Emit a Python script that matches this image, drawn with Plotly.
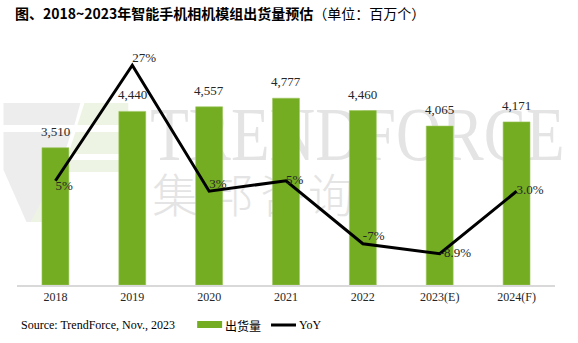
import base64
import plotly.graph_objects as go

# Smartphone camera module shipments (million units) and YoY growth
years = ["2018", "2019", "2020", "2021", "2022", "2023(E)", "2024(F)"]
shipments = [3510, 4440, 4557, 4777, 4460, 4065, 4171]
yoy = [5, 27, 3, 5, -7, -8.9, 3.0]
yoy_labels = ["5%", "27%", "3%", "5%", "-7%", "-8.9%", "3.0%"]
yoy_label_pos = ["bottom right", "top right", "top right", "middle right",
                 "top right", "middle right", "middle right"]

idx = list(range(len(years)))

W, H = 578, 343
L, R, T, B = 16.5, 22.5, 60, 58
PW, PH = W - L - R, H - T - B

GREEN = "#74ac22"
SERIF = "Liberation Serif"
CJK = "Noto Sans CJK SC"


def px(x, y):
    """Pixel position -> paper coordinates."""
    return (x - L) / PW, (H - B - y) / PH


# Faint TrendForce watermark (logo + wordmark), drawn as an SVG behind the bars
def poly(points, fill):
    pts = " ".join(f"{x},{y}" for x, y in points)
    return f'<polygon points="{pts}" fill="{fill}"/>'


gray, lgreen, wm = "#ededed", "#eef4e4", "#e4e4e4"
svg_parts = [
    poly([(3, 103), (80, 103), (74, 125), (3, 125)], gray),
    poly([(3, 132), (71, 132), (42, 222), (26, 222), (3, 170)], gray),
    poly([(84, 103), (128, 103), (128, 125), (77, 125)], lgreen),
    poly([(75, 132), (128, 132), (128, 154), (68, 154)], lgreen),
    poly([(64, 160), (128, 160), (128, 172), (60, 172), (44, 222), (30, 222)], lgreen),
    f'<text x="150" y="160" font-family="{SERIF}" font-size="76" fill="{wm}" '
    f'textLength="415" lengthAdjust="spacingAndGlyphs">TRENDFORCE</text>',
]
for ch, cx in zip("集邦咨询", [175, 230, 283, 331]):
    svg_parts.append(
        f'<text x="{cx}" y="212" text-anchor="middle" font-family="{CJK}" '
        f'font-weight="300" font-size="46" fill="{wm}">{ch}</text>')
svg = (f'<svg xmlns="http://www.w3.org/2000/svg" width="{W}" height="{H}" '
       f'viewBox="0 0 {W} {H}">' + "".join(svg_parts) + "</svg>")
watermark_src = "data:image/svg+xml;base64," + base64.b64encode(svg.encode("utf-8")).decode()

fig = go.Figure()

fig.add_trace(go.Bar(
    x=idx, y=shipments, name="出货量",
    marker=dict(color=GREEN, line=dict(color="#9cc65e", width=0.6)),
    width=0.35, showlegend=False, hovertext=years, hoverinfo="text+y",
))

fig.add_trace(go.Scatter(
    x=idx, y=yoy, name="YoY", yaxis="y2", mode="lines+text",
    line=dict(color="black", width=3),
    text=yoy_labels, textposition=yoy_label_pos,
    textfont=dict(family=SERIF, size=13, color="#262626"),
    showlegend=False, cliponaxis=False,
))

annotations = []
# value labels above the bars
for i, v in zip(idx, shipments):
    annotations.append(dict(
        x=i, y=v, xref="x", yref="y", text=f"{v:,}", showarrow=False,
        yanchor="bottom", yshift=7,
        font=dict(family=SERIF, size=13, color="#262626"),
    ))

# title
annotations.append(dict(
    x=px(12, 0)[0], y=px(0, 13)[1], xref="paper", yref="paper",
    xanchor="left", yanchor="middle", showarrow=False,
    text="<b>图、2018~2023年智能手机相机模组出货量预估</b>（单位：百万个）",
    font=dict(family=CJK, size=14, color="black"),
))

# footer: source + legend
annotations += [
    dict(x=px(19, 0)[0], y=px(0, 325)[1], xref="paper", yref="paper",
         xanchor="left", yanchor="middle", showarrow=False,
         text="Source: TrendForce, Nov., 2023",
         font=dict(family=SERIF, size=12, color="black")),
    dict(x=px(223, 0)[0], y=px(0, 325)[1], xref="paper", yref="paper",
         xanchor="left", yanchor="middle", showarrow=False, text="出货量",
         font=dict(family=CJK, size=12, color="black")),
    dict(x=px(297, 0)[0], y=px(0, 325)[1], xref="paper", yref="paper",
         xanchor="left", yanchor="middle", showarrow=False, text="YoY",
         font=dict(family=SERIF, size=12, color="black")),
]

# legend symbols
shapes = [
    dict(type="rect", xref="paper", yref="paper",
         x0=px(197, 0)[0], x1=px(222, 0)[0],
         y0=px(0, 328)[1], y1=px(0, 321)[1],
         fillcolor=GREEN, line=dict(width=0)),
    dict(type="line", xref="paper", yref="paper",
         x0=px(271, 0)[0], x1=px(296, 0)[0],
         y0=px(0, 325)[1], y1=px(0, 325)[1],
         line=dict(color="black", width=3)),
]

fig.update_layout(
    width=W, height=H,
    margin=dict(l=L, r=R, t=T, b=B, pad=0),
    paper_bgcolor="white", plot_bgcolor="rgba(0,0,0,0)",
    xaxis=dict(type="linear", range=[-0.5, len(years) - 0.5],
               tickmode="array", tickvals=idx, ticktext=years,
               showline=True, linecolor="#d9d9d9", linewidth=2,
               showgrid=False, zeroline=False, ticks="", fixedrange=True,
               tickfont=dict(family=SERIF, size=12, color="#262626")),
    yaxis=dict(range=[0, 5754], visible=False, showgrid=False),
    yaxis2=dict(range=[-14.86, 28.0], overlaying="y", visible=False,
                showgrid=False),
    annotations=annotations, shapes=shapes,
    images=[dict(source=watermark_src, xref="paper", yref="paper",
                 x=px(0, 0)[0], y=px(0, 0)[1], sizex=W / PW, sizey=H / PH,
                 xanchor="left", yanchor="top", sizing="stretch",
                 layer="below")],
    showlegend=False,
)

fig.write_html("out.html")
